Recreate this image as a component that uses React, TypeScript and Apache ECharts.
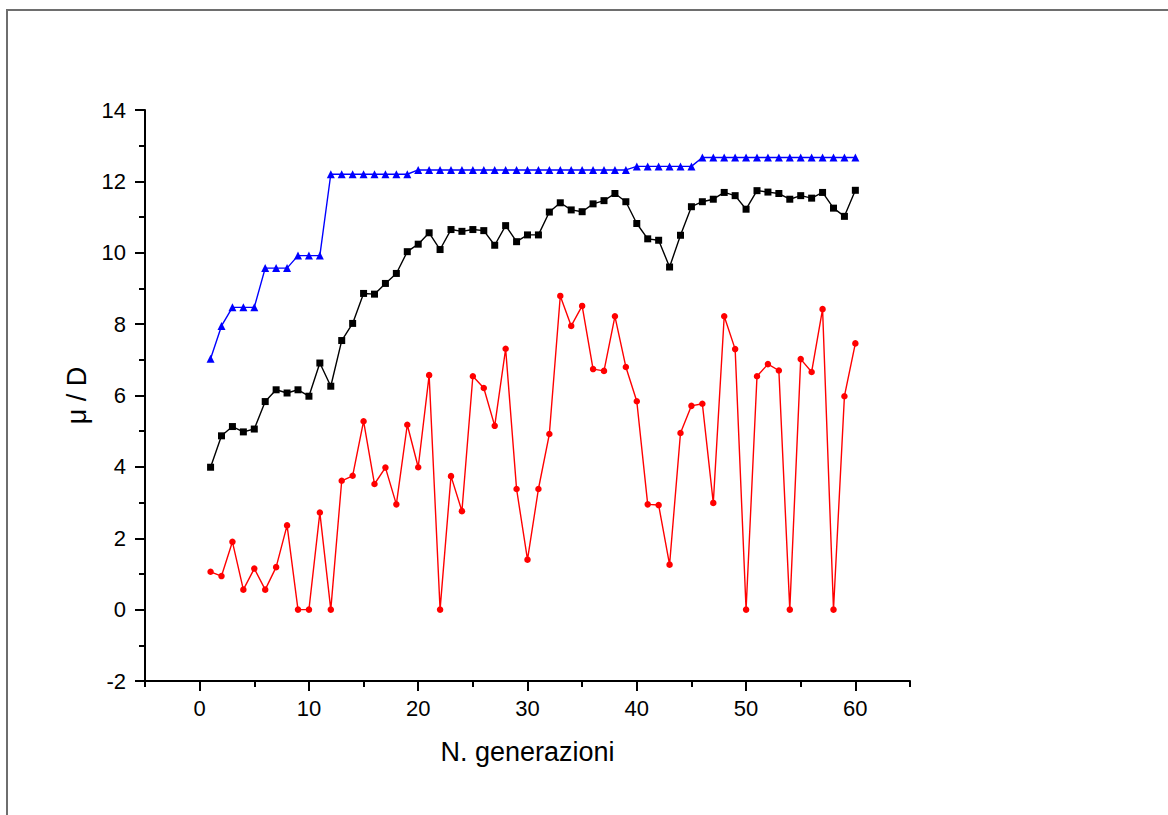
import React, { useEffect, useRef } from "react";
import * as echarts from "echarts";

const generations: number[] = Array.from({ length: 60 }, (_, i) => i + 1);

const blueValues: number[] = [
  7.03, 7.95, 8.47, 8.47, 8.47, 9.57, 9.57, 9.57, 9.92, 9.92,
  9.92, 12.2, 12.2, 12.2, 12.2, 12.2, 12.2, 12.2, 12.2, 12.32,
  12.32, 12.32, 12.32, 12.32, 12.32, 12.32, 12.32, 12.32, 12.32, 12.32,
  12.32, 12.32, 12.32, 12.32, 12.32, 12.32, 12.32, 12.32, 12.32, 12.42,
  12.42, 12.42, 12.42, 12.42, 12.42, 12.67, 12.67, 12.67, 12.67, 12.67,
  12.67, 12.67, 12.67, 12.67, 12.67, 12.67, 12.67, 12.67, 12.67, 12.67,
];

const blackValues: number[] = [
  3.99, 4.87, 5.13, 4.98, 5.06, 5.83, 6.16, 6.07, 6.16, 5.98,
  6.91, 6.26, 7.54, 8.02, 8.86, 8.84, 9.14, 9.42, 10.03, 10.24,
  10.56, 10.09, 10.65, 10.6, 10.65, 10.62, 10.21, 10.76, 10.31, 10.5,
  10.5, 11.14, 11.4, 11.2, 11.15, 11.37, 11.46, 11.66, 11.43, 10.82,
  10.39, 10.35, 9.6, 10.49, 11.29, 11.43, 11.5, 11.69, 11.6, 11.22,
  11.74, 11.7, 11.66, 11.5, 11.6, 11.53, 11.69, 11.25, 11.02, 11.75,
];

const redValues: number[] = [
  1.06, 0.94, 1.9, 0.56, 1.15, 0.56, 1.19, 2.36, 0, 0,
  2.72, 0, 3.61, 3.75, 5.28, 3.52, 3.98, 2.95, 5.18, 3.99,
  6.57, 0, 3.74, 2.76, 6.54, 6.21, 5.15, 7.31, 3.38, 1.4,
  3.38, 4.92, 8.79, 7.95, 8.51, 6.74, 6.69, 8.22, 6.8, 5.84,
  2.95, 2.93, 1.26, 4.95, 5.71, 5.77, 2.99, 8.22, 7.3, 0,
  6.54, 6.88, 6.7, 0, 7.02, 6.66, 8.42, 0, 5.98, 7.46,
];

const xMajorTicks: number[] = [0, 10, 20, 30, 40, 50, 60];
const xMinorTicks: number[] = [-5, 5, 15, 25, 35, 45, 55, 65];

const xTitle = "N. generazioni";
const yTitle = "μ / D";

const FONT = "'Liberation Sans', Arial, Helvetica, sans-serif";

export default function App() {
  const ref = useRef<HTMLDivElement>(null);

  useEffect(() => {
    if (!ref.current) return;
    const chart = echarts.init(ref.current, undefined, { renderer: "svg" });
    const pairs = (vals: number[]) => generations.map((g, i) => [g, vals[i]]);

    chart.setOption({
      animation: false,
      backgroundColor: "#ffffff",
      graphic: [
        {
          type: "line",
          shape: { x1: 7, y1: 10, x2: 7, y2: 815 },
          style: { stroke: "#6e6e6e", lineWidth: 2 },
        },
        {
          type: "line",
          shape: { x1: 6, y1: 10, x2: 1168, y2: 10 },
          style: { stroke: "#6e6e6e", lineWidth: 2 },
        },
      ],
      grid: { left: 145, right: 258, top: 110, bottom: 134, containLabel: false },
      xAxis: [
        {
          type: "value",
          min: -5,
          max: 65,
          position: "bottom",
          name: xTitle,
          nameLocation: "middle",
          nameGap: 57,
          nameTextStyle: { fontFamily: FONT, fontSize: 27, color: "#000" },
          axisLine: { show: true, onZero: false, lineStyle: { color: "#000", width: 2 } },
          axisTick: {
            show: true,
            inside: false,
            length: 10,
            customValues: xMajorTicks,
            lineStyle: { color: "#000", width: 2 },
          },
          axisLabel: {
            customValues: xMajorTicks,
            margin: 16,
            fontFamily: FONT,
            fontSize: 22,
            color: "#000",
          },
          splitLine: { show: false },
        },
        {
          type: "value",
          min: -5,
          max: 65,
          position: "bottom",
          offset: 0,
          axisLine: { show: false, onZero: false },
          axisTick: {
            show: true,
            inside: false,
            length: 6,
            customValues: xMinorTicks,
            lineStyle: { color: "#000", width: 2 },
          },
          axisLabel: { show: false },
          splitLine: { show: false },
        },
      ],
      yAxis: {
        type: "value",
        min: -2,
        max: 14,
        interval: 2,
        name: yTitle,
        nameLocation: "middle",
        nameGap: 55,
        nameTextStyle: { fontFamily: FONT, fontSize: 27, color: "#000" },
        axisLine: { show: true, onZero: false, lineStyle: { color: "#000", width: 2 } },
        axisTick: { show: true, inside: false, length: 10, lineStyle: { color: "#000", width: 2 } },
        minorTick: { show: true, splitNumber: 2, length: 6, lineStyle: { color: "#000", width: 2 } },
        axisLabel: { margin: 19, fontFamily: FONT, fontSize: 22, color: "#000" },
        splitLine: { show: false },
        minorSplitLine: { show: false },
      },
      series: [
        {
          type: "line",
          data: pairs(redValues),
          color: "#ff0000",
          symbol: "circle",
          symbolSize: 6.5,
          lineStyle: { color: "#ff0000", width: 1.4 },
          itemStyle: { color: "#ff0000" },
        },
        {
          type: "line",
          data: pairs(blackValues),
          color: "#000000",
          symbol: "rect",
          symbolSize: 7,
          lineStyle: { color: "#000000", width: 1.4 },
          itemStyle: { color: "#000000" },
        },
        {
          type: "line",
          data: pairs(blueValues),
          color: "#0000ff",
          symbol: "triangle",
          symbolSize: 8,
          lineStyle: { color: "#0000ff", width: 1.4 },
          itemStyle: { color: "#0000ff" },
        },
      ],
    });

    return () => chart.dispose();
  }, []);

  return (
    <div
      ref={ref}
      style={{ position: "fixed", left: 0, top: 0, width: 1168, height: 815, background: "#fff" }}
    />
  );
}
